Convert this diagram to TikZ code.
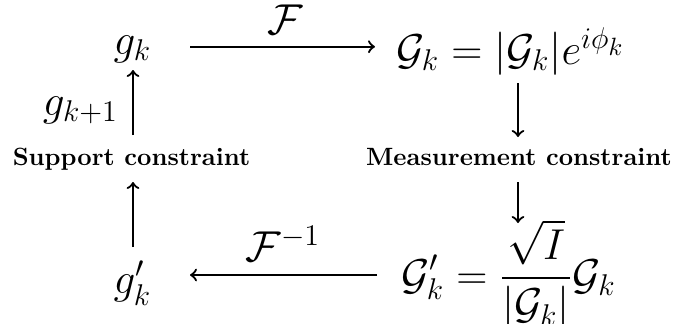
\documentclass[tikz,border=0pt]{standalone}
\usepackage{amsmath}
\usetikzlibrary{calc}
\begin{document}
\begin{tikzpicture}[x=0.4pt,y=-0.4pt,
  every node/.style={inner sep=0pt,outer sep=0pt},
  m/.style={font=\LARGE,anchor=base},
  lab/.style={font=\bfseries,anchor=base},
  arr/.style={-to,line width=0.9pt}]
\useasboundingbox (0,0) rectangle (682,323);
\node[m] (gk)  at (132.5,54) {$g_k$};
\node[m] (Gk)  at (510.5,64) {$\mathcal{G}_k = |\mathcal{G}_k|e^{i\phi_k}$};
\node[m] (gpk) at (132.5,293) {$g_k'$};
\node[m] (Gpk) at (508.5,289) {$\displaystyle\mathcal{G}_k' = \frac{\sqrt{I}}{|\mathcal{G}_k|}\mathcal{G}_k$};
\node[m] (F)   at (285,34) {$\mathcal{F}$};
\node[m] (Fi)  at (283,261) {$\mathcal{F}^{-1}$};
\node[m] (gk1) at (80.5,115) {$g_{k+1}$};
\node[lab] (sup)  at (131.5,165) {Support constraint};
\node[lab] (meas) at (519,165) {Measurement constraint};
\draw[arr] ($(gk.base)+(57.5,-7.3)$) -- ($(Gk.base)+(-135.5,-17.3)$);
\draw[arr] ($(Gpk.base)+(-131.5,-14)$) -- ($(gpk.base)+(57.5,-18)$);
\draw[arr] ($(sup.base)+(1.5,-30)$) -- ($(gk.base)+(0.5,16)$);
\draw[arr] ($(gpk.base)+(0.5,-46)$) -- ($(sup.base)+(1.5,17)$);
\draw[arr] ($(Gk.base)+(7.5,19)$) -- ($(meas.base)+(-1,-28)$);
\draw[arr] ($(meas.base)+(-1,17)$) -- ($(Gpk.base)+(9.5,-66)$);
\end{tikzpicture}
\end{document}
